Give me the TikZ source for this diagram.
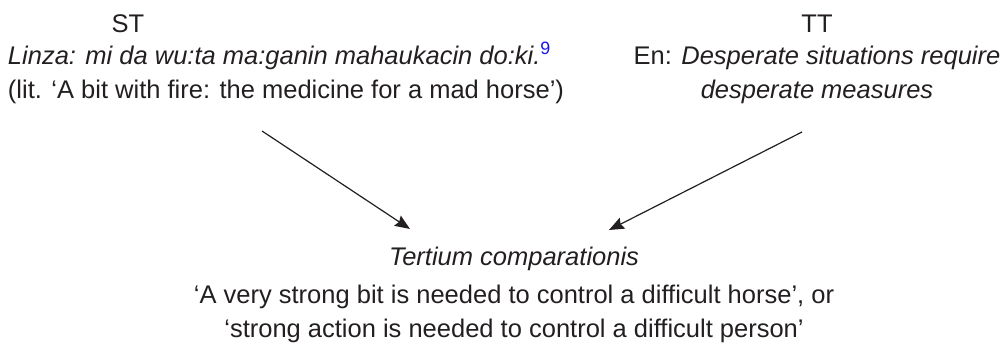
\documentclass[tikz,border=0pt]{standalone}
\usepackage{fontspec}
\setmainfont{Liberation Sans}
\usetikzlibrary{arrows.meta}
\definecolor{ink}{RGB}{35,31,32}
\definecolor{supblue}{RGB}{20,20,230}
\tikzset{
  txt/.style={inner sep=0pt, outer sep=0pt, text=ink, font=\fontsize{25.5}{30}\selectfont},
  conn/.style={draw=ink, line width=1.2pt, -{Stealth[length=15pt,width=12pt,inset=2pt]}}
}
\begin{document}
\begin{tikzpicture}[x=1pt,y=-1pt]
\useasboundingbox (0,0) rectangle (1008,348);
% source text
\node[txt, anchor=base] (st) at (128,32) {ST};
\node[txt, anchor=base west] (st1) at (8,64) {\itshape Linza: mi da wu:ta ma:ganin mahaukacin do:ki.\textsuperscript{\upshape\color{supblue}9}};
\node[txt, anchor=base west] (st2) at (8,98) {(lit. ‘A bit with fire: the medicine for a mad horse’)};
% target text
\node[txt, anchor=base] (tt) at (817,32) {TT};
\node[txt, anchor=base] (tt1) at (817,64) {En: \textit{Desperate situations require}};
\node[txt, anchor=base] (tt2) at (817,98) {\textit{desperate measures}};
% tertium comparationis
\node[txt, anchor=base] (tc) at (514,265) {\textit{Tertium comparationis}};
\node[txt, anchor=base] (tc1) at (514,303) {‘A very strong bit is needed to control a difficult horse’, or};
\node[txt, anchor=base] (tc2) at (514,337) {‘strong action is needed to control a difficult person’};
% connectors
\coordinate (sa) at (262,131);
\coordinate (se) at (410,229);
\coordinate (ta) at (802,132);
\coordinate (te) at (609,230);
\draw[conn] (sa) -- (se);
\draw[conn] (ta) -- (te);
\end{tikzpicture}
\end{document}
